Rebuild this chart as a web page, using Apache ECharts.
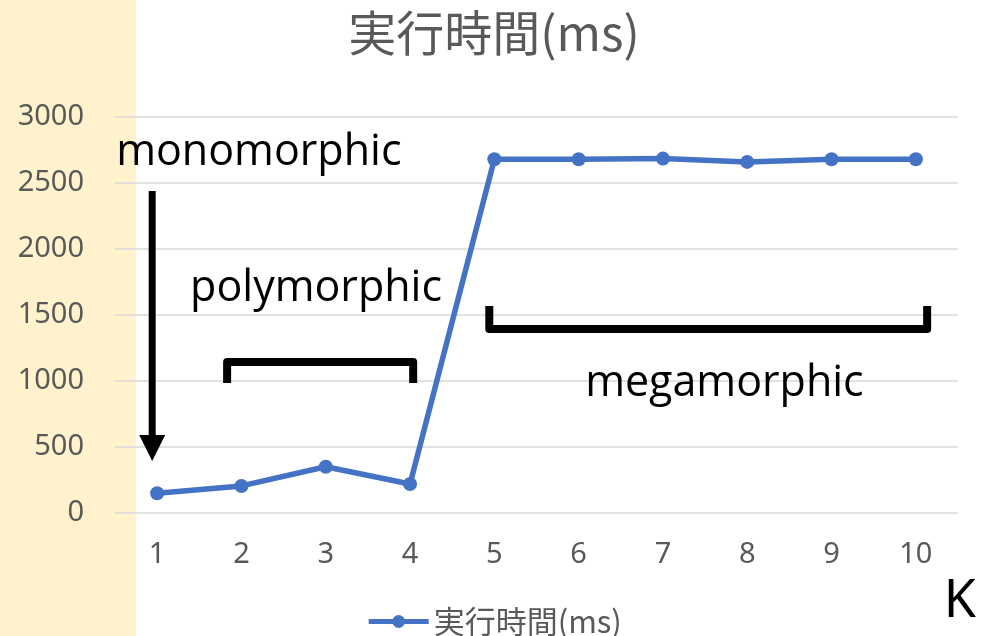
<!DOCTYPE html>
<html>
<head>
<meta charset="utf-8">
<script src="https://cdn.jsdelivr.net/npm/echarts@6/dist/echarts.min.js"></script>
<style>
  html, body { margin: 0; padding: 0; background: #ffffff; }
  #chart { width: 988px; height: 636px; }
</style>
</head>
<body>
<div id="chart"></div>
<script>
// ---- data ----
var categories = ['1', '2', '3', '4', '5', '6', '7', '8', '9', '10'];
var execTimes = [150, 205, 350, 220, 2680, 2680, 2685, 2660, 2680, 2680];
var seriesName = '実行時間(ms)';
var titleText = '実行時間(ms)';
var yTicks = { min: 0, max: 3000, interval: 500 };
var axisName = 'K';
// annotation labels and their anchors in data space [category index, value]
var annoLabels = ['monomorphic', 'polymorphic', 'megamorphic'];
var annoAnchors = [[-0.486, 2727], [0.391, 1697], [5.077, 977]];
var arrowAnchor = { x: -0.059, top: 2439, tip: 394, headTop: 590 };
var polyBracket = { x0: 0.83, x1: 3.037, bar: 1144, leg: 985 };
var megaBracket = { x0: 3.94, x1: 9.134, bar: 1394, leg: 1568 };

var chart = echarts.init(document.getElementById('chart'), null, { renderer: 'canvas' });
var gray = '#595959';
var blue = '#4472C4';

var option = {
  backgroundColor: '#ffffff',
  animation: false,
  title: {
    text: titleText,
    left: 'center',
    top: 4,
    textStyle: { fontFamily: 'Noto Sans CJK JP', fontWeight: 'normal', fontSize: 48, color: gray }
  },
  legend: {
    data: [seriesName],
    left: 'center',
    top: 601,
    itemWidth: 60,
    itemHeight: 16,
    itemGap: 10,
    lineStyle: { width: 5 },
    textStyle: { fontFamily: 'Noto Sans CJK JP', fontSize: 31, color: gray }
  },
  grid: { left: 115, right: 30, top: 117, bottom: 123 },
  xAxis: {
    type: 'category',
    data: categories,
    boundaryGap: true,
    axisLine: { show: false },
    axisTick: { show: false },
    axisLabel: { fontFamily: 'Noto Sans', fontSize: 29, color: gray, margin: 27 }
  },
  yAxis: {
    type: 'value',
    min: yTicks.min,
    max: yTicks.max,
    interval: yTicks.interval,
    axisLine: { show: false },
    axisTick: { show: false },
    axisLabel: { fontFamily: 'Noto Sans', fontSize: 29, color: gray, margin: 31, formatter: function (v) { return String(v); } },
    splitLine: { lineStyle: { color: '#D9D9D9', width: 1.5 } }
  },
  series: [{
    name: seriesName,
    type: 'line',
    data: execTimes,
    symbol: 'circle',
    symbolSize: 14,
    lineStyle: { color: blue, width: 5.5 },
    itemStyle: { color: blue }
  }]
};
chart.setOption(option);

// category axis rounds fractional indices, so interpolate between two category centres
var c0 = chart.convertToPixel({ gridIndex: 0 }, [0, 0]);
var c1 = chart.convertToPixel({ gridIndex: 0 }, [1, 0]);
function px(i, v) {
  var y = chart.convertToPixel({ gridIndex: 0 }, [0, v])[1];
  return [c0[0] + (c1[0] - c0[0]) * i, y];
}

var gfx = [];
gfx.push({
  type: 'rect', z: -10, silent: true,
  shape: { x: 0, y: 0, width: 136, height: 636 },
  style: { fill: '#FFF2CC' }
});
for (var k = 0; k < annoLabels.length; k++) {
  var p = px(annoAnchors[k][0], annoAnchors[k][1]);
  gfx.push({
    type: 'text', z: 10, x: p[0], y: p[1],
    style: { text: annoLabels[k], fontFamily: 'Open Sans', fontSize: 43, fill: '#000000', textAlign: 'left', textVerticalAlign: 'middle', verticalAlign: 'middle' }
  });
}
// arrow
var aTop = px(arrowAnchor.x, arrowAnchor.top);
var aHead = px(arrowAnchor.x, arrowAnchor.headTop);
var aTip = px(arrowAnchor.x, arrowAnchor.tip);
gfx.push({
  type: 'line', z: 10,
  shape: { x1: aTop[0], y1: aTop[1], x2: aHead[0], y2: aHead[1] + 4 },
  style: { stroke: '#000', lineWidth: 7 }
});
gfx.push({
  type: 'polygon', z: 10,
  shape: { points: [[aHead[0] - 13, aHead[1]], [aHead[0] + 13, aHead[1]], [aTip[0], aTip[1]]] },
  style: { fill: '#000' }
});
function bracket(b) {
  var a = px(b.x0, b.leg), c = px(b.x0, b.bar), d = px(b.x1, b.bar), e = px(b.x1, b.leg);
  return {
    type: 'polyline', z: 10,
    shape: { points: [a, c, d, e] },
    style: { stroke: '#000', lineWidth: 8, fill: null, lineJoin: 'round' }
  };
}
gfx.push(bracket(polyBracket));
gfx.push(bracket(megaBracket));
gfx.push({
  type: 'text', z: 10, right: 12, bottom: 8,
  style: { text: axisName, fontFamily: 'Noto Sans', fontSize: 52, fill: '#000' }
});
chart.setOption({ graphic: { elements: gfx } });
</script>
</body>
</html>
